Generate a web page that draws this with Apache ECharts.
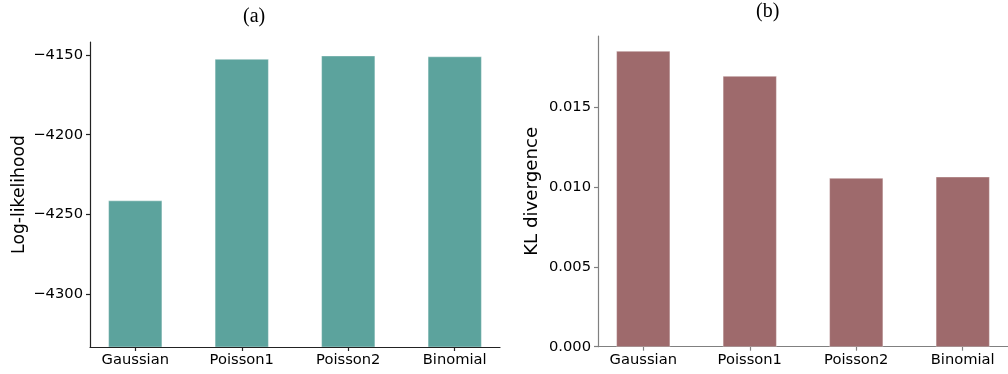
<!DOCTYPE html>
<html>
<head>
<meta charset="utf-8">
<script src="https://cdn.jsdelivr.net/npm/echarts@6/dist/echarts.min.js"></script>
<style>
html,body{margin:0;padding:0;background:#fff;}
#chart{width:1008px;height:374px;}
</style>
</head>
<body>
<div id="chart"></div>
<script>
const categories = ['Gaussian', 'Poisson1', 'Poisson2', 'Binomial'];
const logLikelihood = [-4241.5, -4152.7, -4150.6, -4151.1];
const klDivergence = [0.01851, 0.01694, 0.01055, 0.01063];
const llTicks = [-4300, -4250, -4200, -4150];
const klTicks = [0.000, 0.005, 0.010, 0.015];
const catTicks = [0, 1, 2, 3];

const LL_MIN = -4333.2, LL_MAX = -4141.8;
const KL_MIN = 0, KL_MAX = 0.01947;
const BAR_W = 0.5;

const TICK_FONT = 'DejaVu Sans';
const teal = '#5ca39d';
const maroon = '#9e6a6c';

function minusFmt(v) { return v < 0 ? '\u2212' + Math.abs(v) : String(v); }

function xAxisCfg(gridIndex, lineColor) {
  return {
    type: 'value', gridIndex: gridIndex, min: -0.425, max: 3.425,
    splitLine: { show: false },
    axisLine: { show: true, onZero: false, lineStyle: { color: lineColor, width: 1.2 } },
    axisTick: { show: true, customValues: catTicks, length: 4, lineStyle: { color: lineColor, width: 1.2 } },
    axisLabel: { customValues: catTicks, formatter: v => categories[Math.round(v)], color: '#000',
      fontFamily: TICK_FONT, fontSize: 14.7, margin: 6 }
  };
}

function barRenderer(baseValue) {
  return function (params, api) {
    const x = api.value(0), y = api.value(1);
    const top = api.coord([x, y]);
    const bottom = api.coord([x, baseValue]);
    const w = api.size([BAR_W, 0])[0];
    return {
      type: 'rect',
      shape: { x: top[0] - w / 2, y: top[1], width: w, height: bottom[1] - top[1] },
      style: api.style()
    };
  };
}

const llData = logLikelihood.map((v, i) => [i, v]);
const klData = klDivergence.map((v, i) => [i, v]);

const option = {
  backgroundColor: '#fff',
  animation: false,
  title: [
    { text: '(a)', left: 243, top: 7, padding: 0,
      textStyle: { fontFamily: 'Liberation Serif', fontSize: 20, fontWeight: 'normal', color: '#000' } },
    { text: '(b)', left: 756, top: 2, padding: 0,
      textStyle: { fontFamily: 'Liberation Serif', fontSize: 20, fontWeight: 'normal', color: '#000' } }
  ],
  grid: [
    { left: 90, top: 42, width: 410, height: 305 },
    { left: 598, top: 36, width: 416.6, height: 310.7 }
  ],
  xAxis: [xAxisCfg(0, '#222'), xAxisCfg(1, '#808080')],
  yAxis: [
    { type: 'value', gridIndex: 0, min: LL_MIN, max: LL_MAX,
      name: 'Log-likelihood', nameLocation: 'middle', nameGap: 62, nameRotate: 90,
      nameTextStyle: { fontFamily: TICK_FONT, fontSize: 17.2, color: '#000' },
      splitLine: { show: false },
      axisLine: { show: true, onZero: false, lineStyle: { color: '#222', width: 1.2 } },
      axisTick: { show: true, customValues: llTicks, length: 4, lineStyle: { color: '#222', width: 1.2 } },
      axisLabel: { customValues: llTicks, formatter: minusFmt, color: '#000', fontFamily: TICK_FONT, fontSize: 14.7, margin: 7 }
    },
    { type: 'value', gridIndex: 1, min: KL_MIN, max: KL_MAX,
      name: 'KL divergence', nameLocation: 'middle', nameGap: 57, nameRotate: 90,
      nameTextStyle: { fontFamily: TICK_FONT, fontSize: 18.2, color: '#000' },
      splitLine: { show: false },
      axisLine: { show: true, onZero: false, lineStyle: { color: '#808080', width: 1.2 } },
      axisTick: { show: true, customValues: klTicks, length: 4, lineStyle: { color: '#808080', width: 1.2 } },
      axisLabel: { customValues: klTicks, formatter: v => v.toFixed(3), color: '#000', fontFamily: TICK_FONT, fontSize: 14.7, margin: 7 }
    }
  ],
  series: [
    { type: 'custom', xAxisIndex: 0, yAxisIndex: 0, clip: true, data: llData,
      renderItem: barRenderer(LL_MIN), encode: { x: 0, y: 1 },
      itemStyle: { color: teal, borderColor: 'rgba(255,255,255,0.35)', borderWidth: 1 } },
    { type: 'custom', xAxisIndex: 1, yAxisIndex: 1, clip: true, data: klData,
      renderItem: barRenderer(KL_MIN), encode: { x: 0, y: 1 },
      itemStyle: { color: maroon, borderColor: 'rgba(255,255,255,0.35)', borderWidth: 1 } }
  ]
};

const chart = echarts.init(document.getElementById('chart'), null, { renderer: 'canvas' });
chart.setOption(option);
</script>
</body>
</html>
